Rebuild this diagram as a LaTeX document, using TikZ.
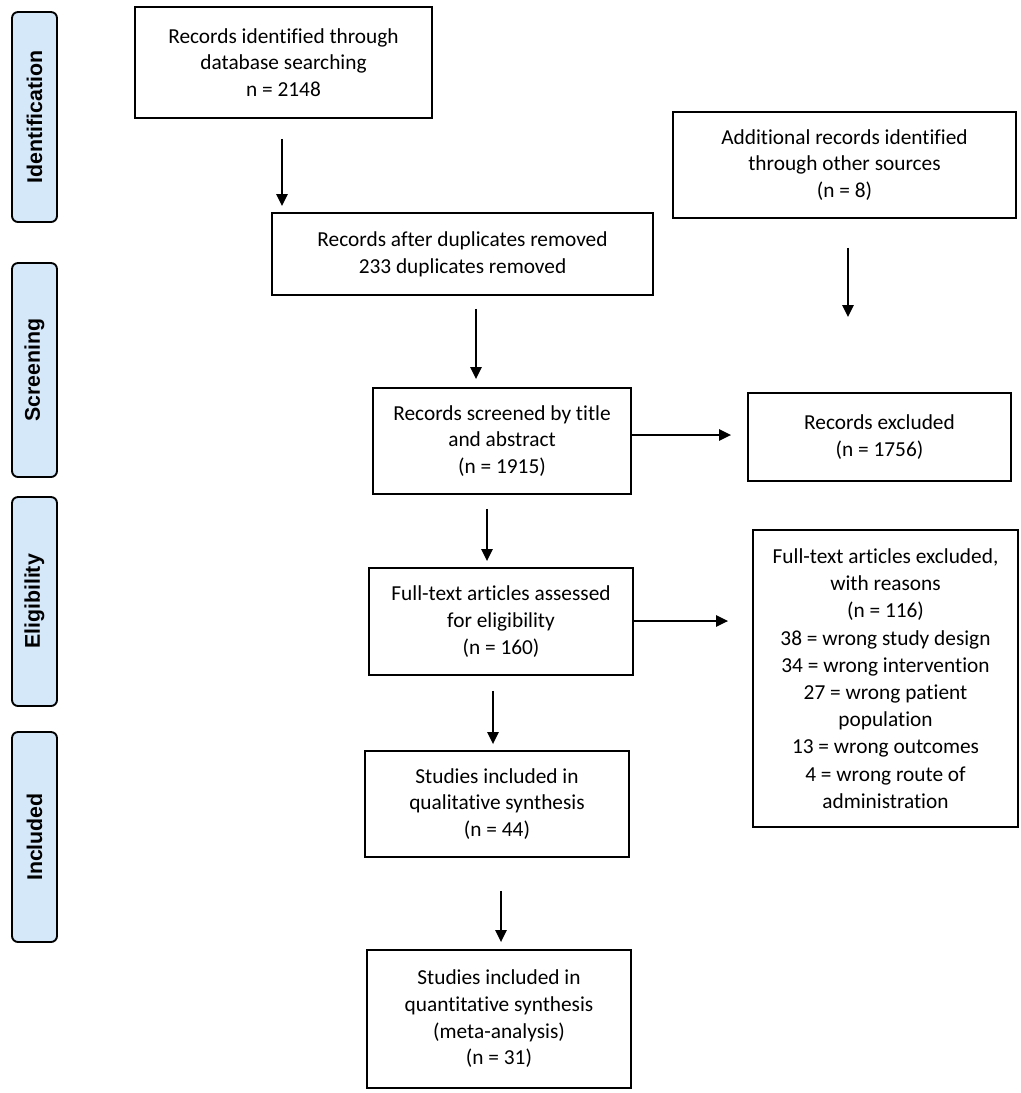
\documentclass[tikz,border=0pt]{standalone}
\usepackage{fontspec}
\setmainfont{Carlito}[Ligatures={NoCommon}]
\newfontfamily\sidefont{Liberation Sans}
\usetikzlibrary{arrows.meta}
\definecolor{sideblue}{RGB}{213,232,250}
\newcommand\pbox[6]{\node[box, minimum width=#4*0.75pt, minimum height=#5*0.75pt] (#1) at (#2,#3) {#6};}
\newcommand\stagebox[4]{\node[sidebox, minimum width=#4*0.75pt] (#1) at (34.5,#2) {#3};}
\begin{document}
\begin{tikzpicture}[x=0.75pt,y=-0.75pt,
  box/.style={draw=black, line width=1.4pt, inner sep=0pt, align=center,
    font=\fontsize{16}{20}\selectfont},
  sidebox/.style={draw=black, line width=1.4pt, fill=sideblue, rounded corners=4.5pt,
    rotate=90, minimum height=45*0.75pt, inner sep=0pt,
    font=\sidefont\bfseries\fontsize{16}{19}\selectfont},
  arr/.style={line width=1.3pt, -{Triangle[length=9pt,width=8.5pt]}}]
\useasboundingbox (0,0) rectangle (1021,1093);
% side labels
\stagebox{sid}{117}{Identification}{210}
\stagebox{sscr}{370}{Screening}{214}
\stagebox{selig}{601.5}{Eligibility}{209}
\stagebox{sinc}{837}{Included}{210}
% boxes
\pbox{b1}{283.5}{62.5}{297}{111}{Records identified through\\database searching\\n = 2148}
\pbox{b2}{462.5}{254}{381}{82}{Records after duplicates removed\\233 duplicates removed}
\pbox{b3}{844.5}{165}{343}{106}{Additional records identified\\through other sources\\(n = 8)}
\pbox{b4}{502}{441}{258}{106}{Records screened by title\\and abstract\\(n = 1915)}
\pbox{b5}{879.5}{437}{263}{88}{Records excluded\\(n = 1756)}
\pbox{b6}{501}{621.5}{264}{107}{Full-text articles assessed\\for eligibility\\(n = 160)}
\node[box, minimum width=265*0.75pt, minimum height=297*0.75pt, font=\fontsize{16}{20.4}\selectfont] (b7) at (885.5,678.5)
  {Full-text articles excluded,\\with reasons\\(n = 116)\\38 = wrong study design\\34 = wrong intervention\\27 = wrong patient\\population\\13 = wrong outcomes\\4 = wrong route of\\administration};
\pbox{b8}{497}{804}{264}{106}{Studies included in\\qualitative synthesis\\(n = 44)}
\pbox{b9}{499}{1019}{264}{138}{Studies included in\\quantitative synthesis\\(meta-analysis)\\(n = 31)}
% connectors
\coordinate (a2end) at (848,317);
\draw[arr, shorten <=15pt, shorten >=4.5pt] (b1.south -| 282,0) -- (b2.north -| 282,0);
\draw[arr, shorten <=21.75pt] (b3.south -| a2end) -- (a2end);
\draw[arr, shorten <=9.75pt, shorten >=6pt] (b2.south -| 476,0) -- (b4.north -| 476,0);
\draw[arr, shorten >=12pt] (b4.east |- 0,435) -- (b5.west |- 0,435);
\draw[arr, shorten <=10.5pt, shorten >=4.5pt] (b4.south -| 487,0) -- (b6.north -| 487,0);
\draw[arr, shorten >=18pt] (b6.east |- 0,621) -- (b7.west |- 0,621);
\draw[arr, shorten <=11.25pt, shorten >=4.5pt] (b6.south -| 493,0) -- (b8.north -| 493,0);
\draw[arr, shorten <=24.75pt, shorten >=5.25pt] (b8.south -| 501,0) -- (b9.north -| 501,0);
\end{tikzpicture}
\end{document}
